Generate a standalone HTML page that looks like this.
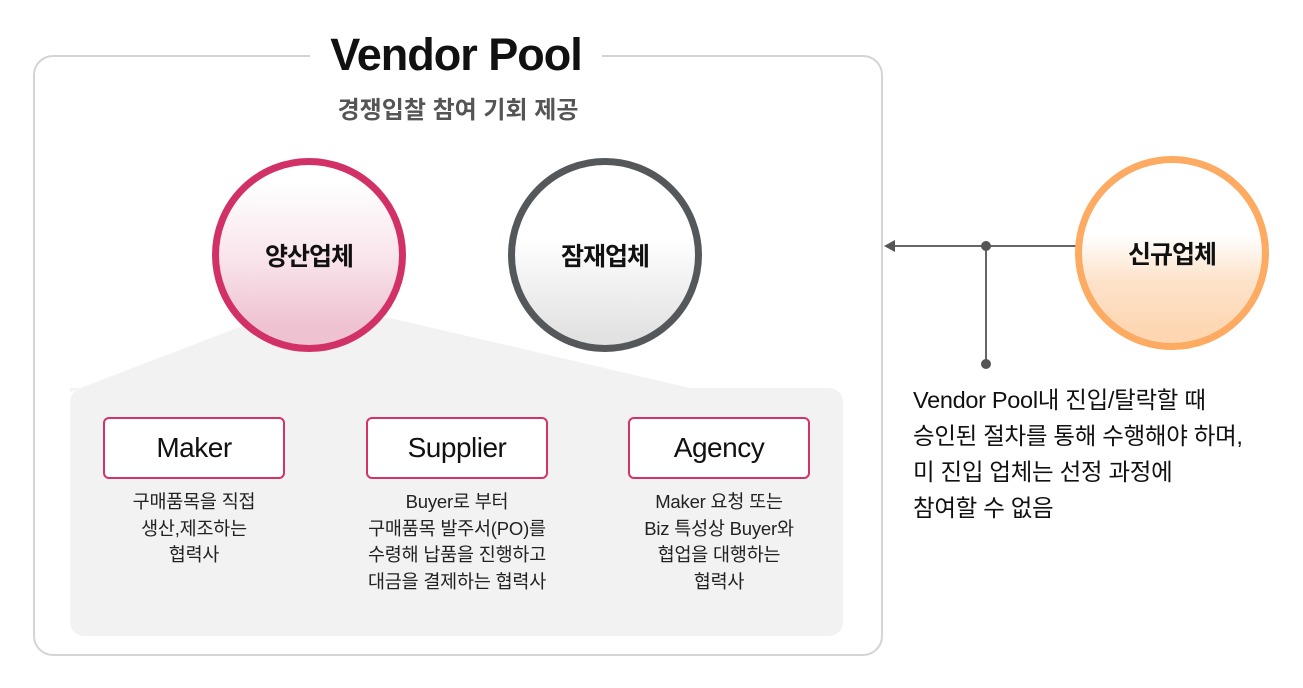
<!DOCTYPE html>
<html><head><meta charset="utf-8"><style>
body{margin:0;width:1303px;height:688px;background:#fff;position:relative;font-family:"Liberation Sans","Noto Sans CJK KR",sans-serif;overflow:hidden}
.a{position:absolute}
.circ{position:absolute;width:180px;height:180px;border-radius:50%;border:7px solid;display:flex;align-items:center;justify-content:center;font-weight:bold;font-size:25px;color:#111;letter-spacing:-1px}
.box{position:absolute;width:178px;height:58px;border:2px solid #d33366;border-radius:6px;background:#fff;display:flex;align-items:center;justify-content:center;font-size:28px;color:#111;letter-spacing:-0.5px}
.desc{position:absolute;width:280px;text-align:center;font-size:18.5px;line-height:26.5px;color:#222;letter-spacing:-0.2px}
</style></head><body>
<div class="a" style="left:33px;top:55px;width:846px;height:597px;border:2px solid #d4d4d4;border-radius:20px"></div>
<div class="a" style="left:310px;top:30px;width:292px;height:50px;background:#fff;text-align:center;font-size:45px;font-weight:bold;color:#111;line-height:50px;letter-spacing:-1px">Vendor Pool</div>
<div class="a" style="left:233px;top:90px;width:450px;text-align:center;font-size:24px;font-weight:bold;color:#555">경쟁입찰 참여 기회 제공</div>
<svg class="a" style="left:0;top:0" width="1303" height="688">
<polygon points="70,392 245,325 390,318 690,388 70,388" fill="#f2f2f2"/>
<rect x="70" y="388" width="773" height="248" rx="14" fill="#f2f2f2"/>
<line x1="892" y1="246" x2="1080" y2="246" stroke="#666" stroke-width="2"/>
<polygon points="884,246 895,240 895,252" fill="#555"/>
<line x1="986" y1="246" x2="986" y2="364" stroke="#666" stroke-width="2"/>
<circle cx="986" cy="246" r="5" fill="#555"/>
<circle cx="986" cy="364" r="5" fill="#555"/>
</svg>
<div class="circ" style="left:212px;top:158px;border-color:#d13166;background:linear-gradient(#fff 10%,#f9e6ec 50%,#efc2d1 90%)">양산업체</div>
<div class="circ" style="left:508px;top:158px;border-color:#55585b;background:linear-gradient(#fff 40%,#e2e2e2 95%)">잠재업체</div>
<div class="circ" style="left:1075px;top:156px;border-color:#fdaa62;background:linear-gradient(#fff 40%,#fde3cb 65%,#fed6b1 95%)">신규업체</div>
<div class="box" style="left:103px;top:417px">Maker</div>
<div class="box" style="left:366px;top:417px">Supplier</div>
<div class="box" style="left:628px;top:417px">Agency</div>
<div class="desc" style="left:54px;top:489px">구매품목을 직접<br>생산,제조하는<br>협력사</div>
<div class="desc" style="left:317px;top:489px">Buyer로 부터<br>구매품목 발주서(PO)를<br>수령해 납품을 진행하고<br>대금을 결제하는 협력사</div>
<div class="desc" style="left:579px;top:489px">Maker 요청 또는<br>Biz 특성상 Buyer와<br>협업을 대행하는<br>협력사</div>
<div class="a" style="left:913px;top:382px;font-size:23.5px;line-height:36px;color:#111;letter-spacing:-0.3px;white-space:nowrap">Vendor Pool내 진입/탈락할 때<br>승인된 절차를 통해 수행해야 하며,<br>미 진입 업체는 선정 과정에<br>참여할 수 없음</div>
</body></html>
